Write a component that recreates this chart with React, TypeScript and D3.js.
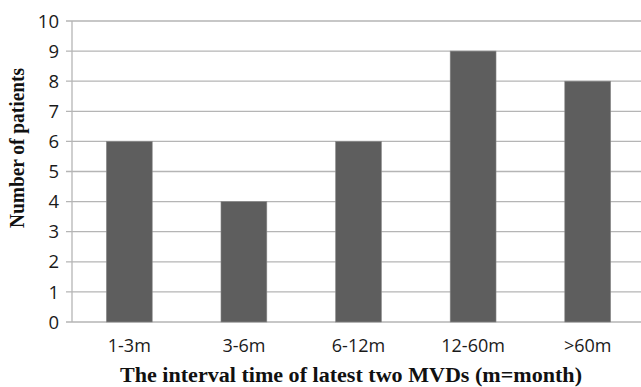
import React from "react";
import * as d3 from "d3";

const categories = ["1-3m", "3-6m", "6-12m", "12-60m", ">60m"];
const values = [6, 4, 6, 9, 8];
const yTicks = [0, 1, 2, 3, 4, 5, 6, 7, 8, 9, 10];

export default function App() {
  const W = 641, H = 387;
  const left = 72, right = 645, top = 21, bottom = 322;
  const x = d3.scaleBand().domain(categories).range([left, right]).paddingInner(0.6).paddingOuter(0.3);
  const y = d3.scaleLinear().domain([0, 10]).range([bottom, top]);
  return (
    <svg width={W} height={H} style={{ position: "absolute", left: 0, top: 0, background: "#fff" }}>
      {yTicks.map((t) => (
        <g key={t}>
          <line x1={66} x2={right} y1={y(t)} y2={y(t)} stroke="#b5b5b5" strokeWidth={1.3} />
          <text x={59} y={y(t)} dy="0.36em" textAnchor="end" fontFamily="'Open Sans', sans-serif" fontSize={18.5} fill="#1a1a1a">{t}</text>
        </g>
      ))}
      <line x1={left} x2={left} y1={top} y2={bottom} stroke="#b5b5b5" strokeWidth={1.3} />
      {categories.map((c, i) => (
        <g key={c}>
          <rect x={x(c)!} y={y(values[i])} width={x.bandwidth()} height={bottom - y(values[i])} fill="#5e5e5e" stroke="#8a8a8a" strokeWidth={0.6} />
          <text x={x(c)! + x.bandwidth() / 2} y={352} textAnchor="middle" fontFamily="'Open Sans', sans-serif" fontSize={18} fill="#1a1a1a">{c}</text>
        </g>
      ))}
      <text transform={`translate(24,148) rotate(-90)`} textAnchor="middle" fontFamily="'Liberation Serif', serif" fontWeight="bold" fontSize={20} fill="#111" textLength={160} lengthAdjust="spacingAndGlyphs">Number of patients</text>
      <text x={351} y={382} textAnchor="middle" fontFamily="'Liberation Serif', serif" fontWeight="bold" fontSize={20} fill="#111" textLength={462} lengthAdjust="spacingAndGlyphs">The interval time of latest two MVDs (m=month)</text>
    </svg>
  );
}
